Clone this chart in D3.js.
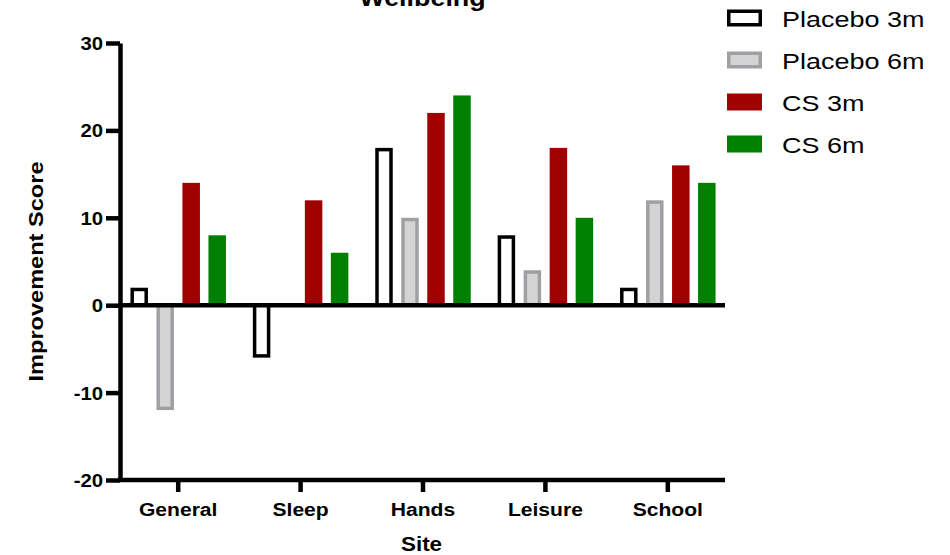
<!DOCTYPE html>
<html>
<head>
<meta charset="utf-8">
<script src="https://cdn.jsdelivr.net/npm/d3@7"></script>
<style>
  html, body { margin: 0; padding: 0; background: #fff; }
  svg { display: block; font-family: "Liberation Sans", Arial, Helvetica, sans-serif; }
</style>
</head>
<body>
<svg id="chart" width="950" height="555"></svg>
<script>
// Wellbeing improvement scores by site
const sites = ["General", "Sleep", "Hands", "Leisure", "School"];
const seriesNames = ["Placebo 3m", "Placebo 6m", "CS 3m", "CS 6m"];
const placebo3m = [2, -6, 18, 8, 2];
const placebo6m = [-12, 0, 10, 4, 12];
const cs3m = [14, 12, 22, 18, 16];
const cs6m = [8, 6, 24, 10, 14];
const yTicks = [-20, -10, 0, 10, 20, 30];

const seriesValues = [placebo3m, placebo6m, cs3m, cs6m];
const seriesStyle = [
  { fill: "#ffffff", stroke: "#000000", outlined: true },
  { fill: "#d4d4d4", stroke: "#a0a0a4", outlined: true },
  { fill: "#a00000", stroke: null, outlined: false },
  { fill: "#008000", stroke: null, outlined: false }
];

const svg = d3.select("#chart");
const plotLeft = 120, plotRight = 725, plotTop = 43, plotBottom = 480;
const axisW = 4.5, outlineW = 3.5;
const stretch = 1.13; // glyphs are drawn slightly wider than Arial metrics

const y = d3.scaleLinear().domain([-20, 30]).range([plotBottom, plotTop]);
const x = d3.scaleBand().domain(sites).range([117, 729]);
const xs = d3.scaleBand().domain(seriesNames).range([-47.75, 47.75]).paddingInner(0.327);

// helper for horizontally widened text
function wideText(sel, tx, ty, txt, size, weight, anchor, s, rot) {
  return sel.append("text")
    .attr("transform", `translate(${tx},${ty})` + (rot ? ` rotate(${rot})` : "") + ` scale(${s},1)`)
    .attr("text-anchor", anchor)
    .attr("font-size", size)
    .attr("font-weight", weight)
    .attr("fill", "#000")
    .text(txt);
}

// bars
const rows = [];
seriesNames.forEach((name, si) => {
  sites.forEach((site, ci) => rows.push({ site, name, si, v: seriesValues[si][ci] }));
});

svg.append("g").selectAll("rect").data(rows).join("rect")
  .each(function(d) {
    const st = seriesStyle[d.si];
    const cx = x(d.site) + x.bandwidth() / 2;
    const x0 = cx + xs(d.name);
    const w = xs.bandwidth();
    const yTop = y(Math.max(0, d.v)), yBot = y(Math.min(0, d.v));
    const r = d3.select(this);
    if (st.outlined) {
      const inset = outlineW / 2;
      r.attr("x", x0 + inset).attr("width", w - outlineW)
       .attr("y", yTop + (d.v > 0 ? inset : 0))
       .attr("height", Math.max(0, yBot - yTop - inset))
       .attr("fill", st.fill).attr("stroke", st.stroke).attr("stroke-width", outlineW);
      if (d.v < 0) r.attr("y", yTop).attr("height", Math.max(0, yBot - yTop - inset));
    } else {
      r.attr("x", x0).attr("width", w).attr("y", yTop).attr("height", yBot - yTop)
       .attr("fill", st.fill);
    }
  });

// zero line
svg.append("line")
  .attr("x1", plotLeft).attr("x2", plotRight)
  .attr("y1", y(0)).attr("y2", y(0))
  .attr("stroke", "#000").attr("stroke-width", axisW);

// y axis
const yAxis = svg.append("g").attr("transform", `translate(${plotLeft},0)`)
  .call(d3.axisLeft(y).tickValues(yTicks).tickSize(14).tickSizeOuter(0).tickFormat(d3.format("d")));
yAxis.select(".domain").attr("stroke-width", axisW).attr("stroke", "#000");
yAxis.selectAll(".tick line").attr("stroke-width", axisW).attr("stroke", "#000");
yAxis.selectAll(".tick text").remove();
yAxis.selectAll(".tick").each(function(d) {
  wideText(d3.select(this), -17, 6.5, String(d), 18, "bold", "end", stretch);
});

// bottom x axis
svg.append("line")
  .attr("x1", plotLeft - axisW / 2).attr("x2", plotRight)
  .attr("y1", plotBottom).attr("y2", plotBottom)
  .attr("stroke", "#000").attr("stroke-width", axisW);
const xAxis = svg.append("g").attr("transform", `translate(0,${plotBottom})`)
  .call(d3.axisBottom(x).tickSize(12).tickSizeOuter(0));
xAxis.select(".domain").remove();
xAxis.selectAll(".tick line").attr("stroke-width", axisW).attr("stroke", "#000");
xAxis.selectAll(".tick text").remove();
xAxis.selectAll(".tick").each(function(d) {
  wideText(d3.select(this), 0, 36, d, 19, "bold", "middle", 1.11);
});

// axis titles and chart title
wideText(svg, (plotLeft + plotRight) / 2 - 1, 551, "Site", 20, "bold", "middle", 1.12);
wideText(svg, 43, (plotTop + plotBottom) / 2 + 10, "Improvement Score", 20.5, "bold", "middle", 1.15, -90);
wideText(svg, (plotLeft + plotRight) / 2, 6, "Wellbeing", 24, "bold", "middle", 1.12);

// legend
const legend = svg.append("g").attr("transform", "translate(727,18)");
seriesNames.forEach((name, i) => {
  const st = seriesStyle[i];
  const g = legend.append("g").attr("transform", `translate(0,${i * 42})`);
  if (st.outlined) {
    g.append("rect").attr("x", outlineW / 2).attr("y", -8.5 + outlineW / 2)
      .attr("width", 35 - outlineW).attr("height", 17 - outlineW)
      .attr("fill", st.fill).attr("stroke", st.stroke).attr("stroke-width", outlineW);
  } else {
    g.append("rect").attr("x", 0).attr("y", -8.5).attr("width", 35).attr("height", 17)
      .attr("fill", st.fill);
  }
  wideText(g, 55, 8.5, name, 22.5, "normal", "start", 1.2);
});
</script>
</body>
</html>
